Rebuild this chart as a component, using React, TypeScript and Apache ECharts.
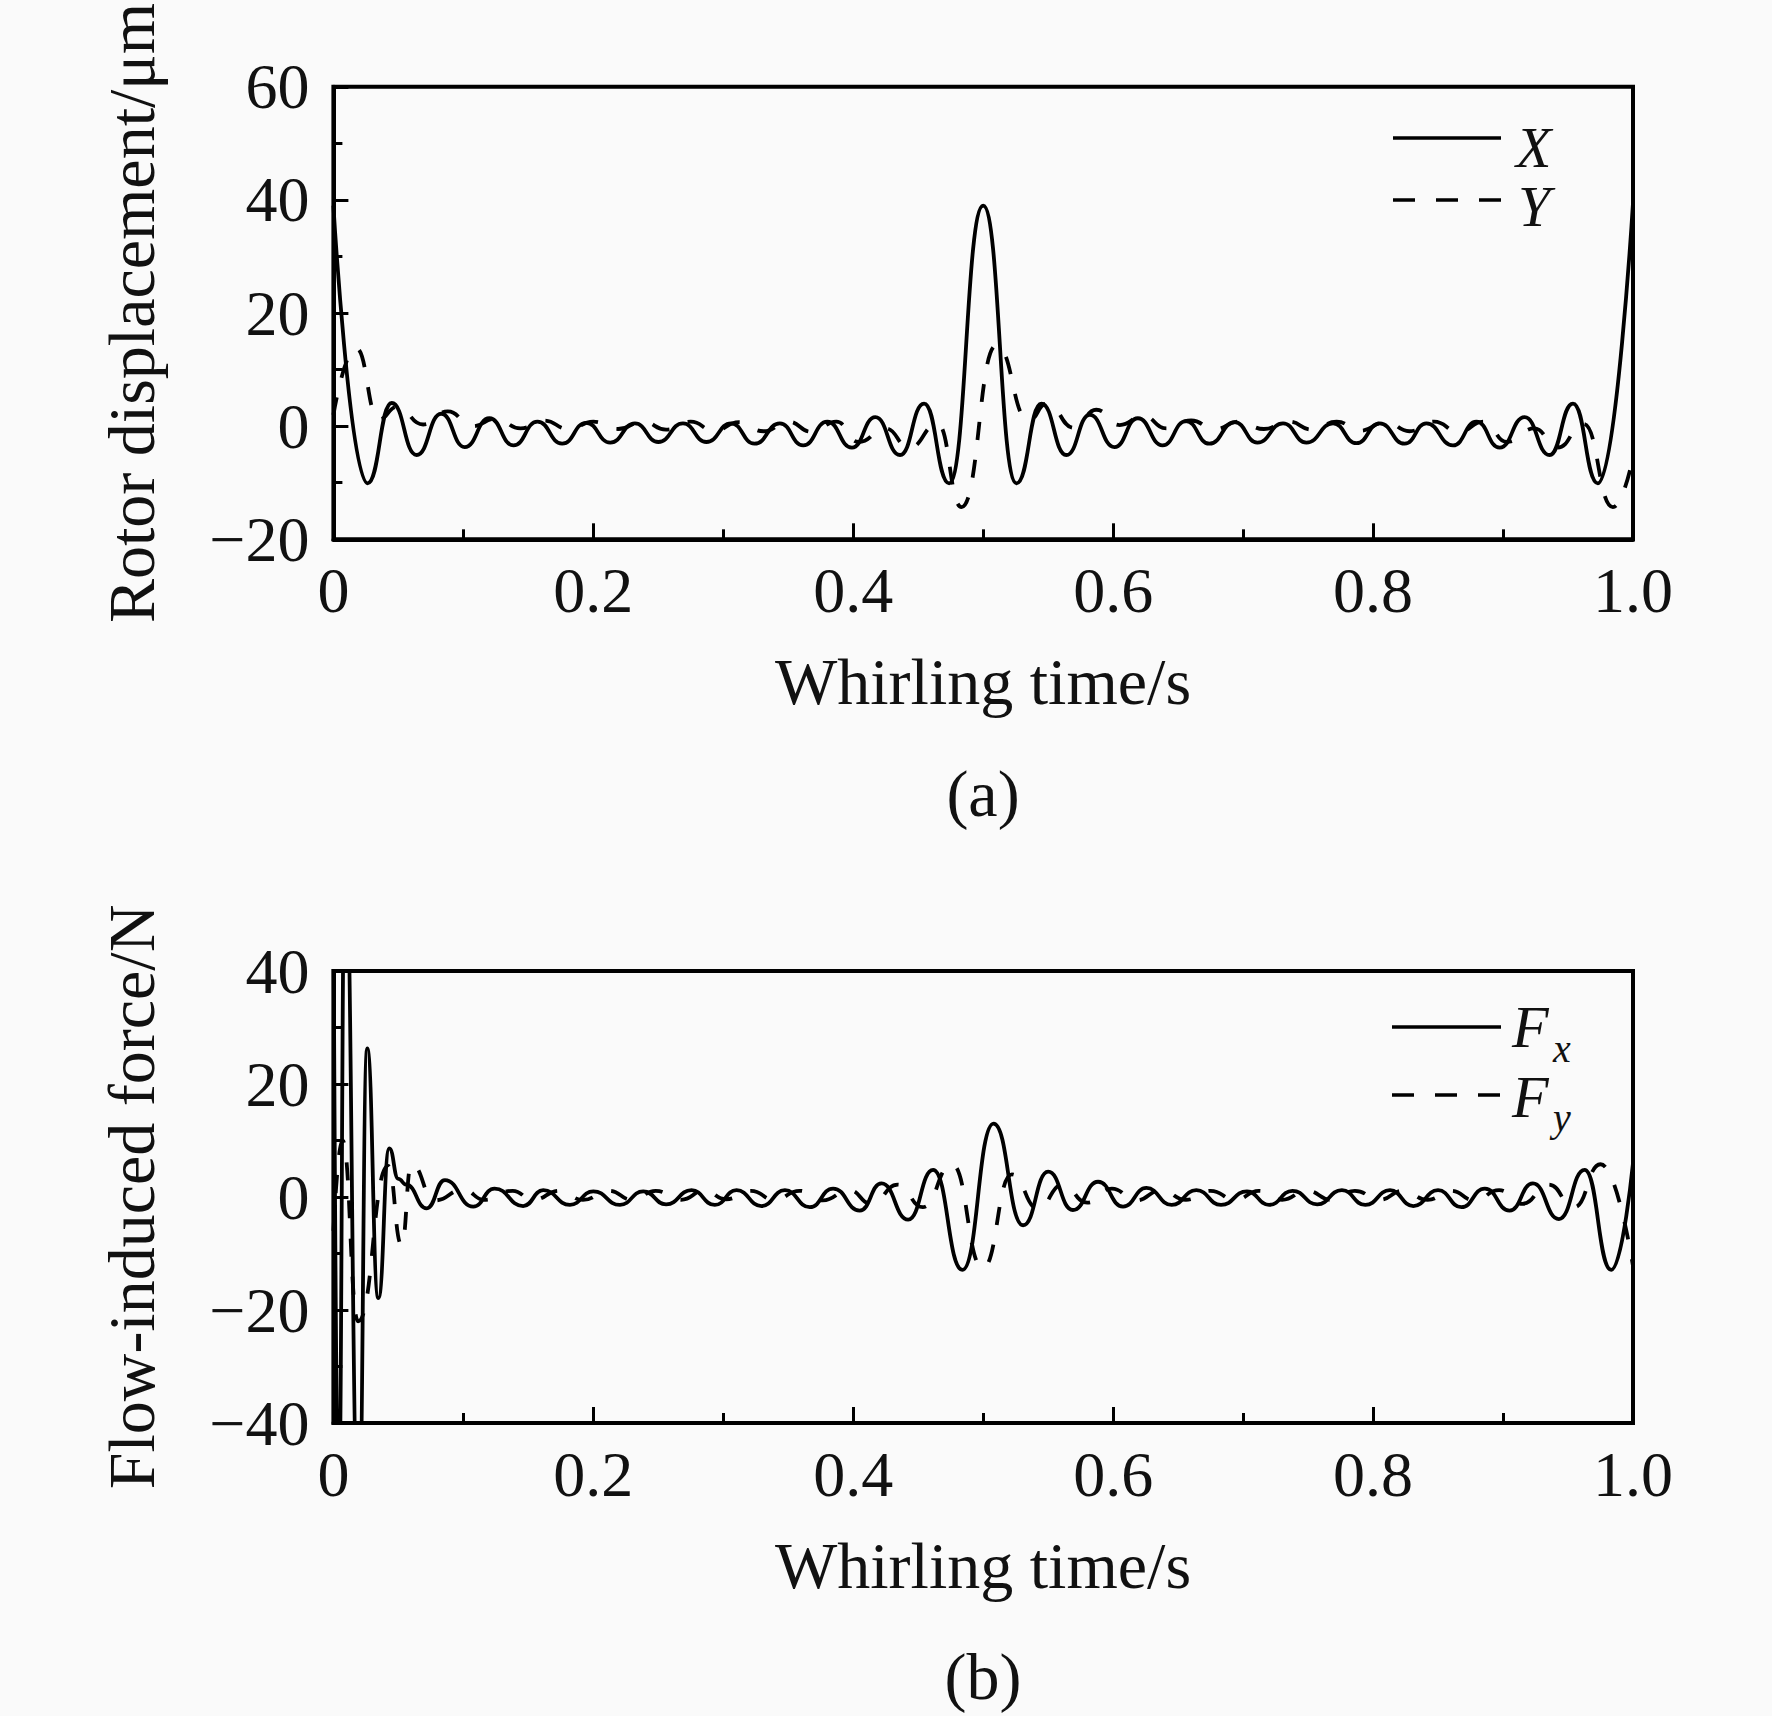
import React, { useEffect, useRef } from 'react';
import * as echarts from 'echarts';

// ---------- data ----------
const xTickLabels = ['0', '0.2', '0.4', '0.6', '0.8', '1.0'];
const yTickLabelsA = ['\u221220', '0', '20', '40', '60'];
const yTickLabelsB = ['\u221240', '\u221220', '0', '20', '40'];

const xAxisTitle = 'Whirling time/s';
const yAxisTitleA = 'Rotor displacement/\u03bcm';
const yAxisTitleB = 'Flow-induced force/N';
const panelLabels = ['(a)', '(b)'];

// Rotor displacement X (solid), [time s, µm]
const rotorX: [number, number][] = [
  [0, 39.0], [0.0262, -10.1], [0.0449, 4.1], [0.064, -5.1], [0.083, 2.2], [0.101, -3.7],
  [0.12, 1.4], [0.1385, -3.4], [0.157, 0.8], [0.176, -3.1], [0.1945, 0.6], [0.213, -2.9],
  [0.232, 0.5], [0.25, -2.8], [0.269, 0.5], [0.287, -2.8], [0.306, 0.5], [0.324, -3.1],
  [0.3435, 0.5], [0.3615, -3.4], [0.38, 0.8], [0.399, -3.8], [0.417, 1.6], [0.436, -5.1],
  [0.4545, 4.0], [0.4738, -10.1], [0.5, 39.0], [0.5256, -10.1], [0.5448, 4.0], [0.564, -5.1],
  [0.582, 2.0], [0.601, -3.7], [0.619, 1.4], [0.638, -3.4], [0.656, 0.9], [0.674, -3.1],
  [0.6935, 0.7], [0.711, -2.9], [0.7307, 0.5], [0.7487, -2.9], [0.7692, 0.5], [0.7872, -3.0],
  [0.8051, 0.5], [0.8243, -3.1], [0.841, 0.5], [0.8615, -3.4], [0.8795, 0.8], [0.8974, -3.8],
  [0.9166, 1.6], [0.9358, -5.1], [0.9538, 4.0], [0.973, -10.1], [1.0, 39.5],
];

// Rotor displacement Y (dashed)
const rotorY: [number, number][] = [
  [0, 2.0], [0.0174, 13.8], [0.035, 1.2], [0.049, 3.4], [0.069, 0.3], [0.088, 2.6],
  [0.107, 0.0], [0.125, 1.3], [0.144, -0.4], [0.162, 1.0], [0.181, -0.5], [0.2, 0.8],
  [0.219, -0.5], [0.238, 0.8], [0.256, -0.6], [0.275, 0.8], [0.293, -0.8], [0.312, 0.7],
  [0.331, -0.9], [0.35, 0.8], [0.368, -1.0], [0.387, 0.8], [0.404, -2.8], [0.425, -0.4],
  [0.443, -3.8], [0.465, 0.4], [0.4833, -14.3], [0.5102, 14.3], [0.535, 1.0], [0.549, 4.0],
  [0.57, -0.3], [0.587, 2.9], [0.605, 0.2], [0.623, 1.8], [0.641, -0.4], [0.66, 1.0],
  [0.678, -0.5], [0.697, 0.8], [0.716, -0.5], [0.735, 0.8], [0.753, -0.6], [0.772, 0.8],
  [0.79, -0.8], [0.81, 0.7], [0.828, -0.9], [0.847, 0.8], [0.866, -1.0], [0.885, 0.8],
  [0.903, -2.8], [0.924, -0.4], [0.942, -3.8], [0.962, 0.4], [0.9845, -14.3], [1.0, -5.5],
];

// Flow-induced force Fx (solid), [time s, N]
const forceFx: [number, number][] = [
  [0, 55], [0.004, -55], [0.009, 62], [0.0195, -58], [0.026, 26.3], [0.0346, -17.9],
  [0.043, 8.6], [0.05, 3.2], [0.056, 2.2], [0.0718, -2.0], [0.0858, 3.0], [0.1076, -1.7],
  [0.124, 1.5], [0.146, -1.6], [0.1615, 1.2], [0.182, -1.4], [0.2, 1.0], [0.2205, -1.4],
  [0.2384, 1.0], [0.256, -1.3], [0.2756, 1.2], [0.2935, -1.4], [0.3102, 1.2], [0.3294, -1.6],
  [0.3474, 1.2], [0.3666, -1.8], [0.3845, 1.5], [0.405, -2.4], [0.4218, 2.4], [0.4423, -4.0],
  [0.4615, 4.8], [0.484, -12.9], [0.508, 13.0], [0.5307, -5.0], [0.55, 4.5], [0.569, -2.3],
  [0.5884, 2.7], [0.6076, -1.7], [0.6256, 1.6], [0.645, -1.4], [0.664, 1.2], [0.683, -1.4],
  [0.703, 1.0], [0.72, -1.4], [0.738, 1.1], [0.757, -1.3], [0.776, 1.2], [0.794, -1.4],
  [0.813, 1.2], [0.831, -1.6], [0.85, 1.2], [0.868, -1.8], [0.886, 1.5], [0.905, -2.4],
  [0.923, 2.4], [0.943, -3.9], [0.9628, 4.8], [0.9833, -12.9], [1.0, 6.0],
];

// Flow-induced force Fy (dashed)
const forceFy: [number, number][] = [
  [0, -6], [0.007, 10], [0.019, -22], [0.042, 5.5], [0.0525, -8.5], [0.06, 5.8],
  [0.078, -0.6], [0.1, 1.3], [0.116, -0.5], [0.138, 1.1], [0.1535, -0.5], [0.174, 1.1],
  [0.192, -0.5], [0.212, 1.1], [0.23, -0.5], [0.248, 1.1], [0.2676, -0.5], [0.2855, 1.1],
  [0.3022, -0.4], [0.3214, 1.1], [0.3394, -0.5], [0.3586, 1.1], [0.3765, -0.6], [0.397, 1.2],
  [0.4138, -1.2], [0.4343, 2.2], [0.4535, -1.8], [0.476, 5.8], [0.4997, -12.6], [0.522, 4.0],
  [0.542, -2.0], [0.561, 2.2], [0.58, -1.0], [0.599, 1.5], [0.6176, -0.6], [0.637, 1.2],
  [0.656, -0.5], [0.675, 1.1], [0.694, -0.5], [0.712, 1.1], [0.73, -0.5], [0.749, 1.1],
  [0.768, -0.5], [0.786, 1.1], [0.805, -0.5], [0.823, 1.1], [0.842, -0.5], [0.86, 1.1],
  [0.878, -0.6], [0.897, 1.2], [0.915, -1.2], [0.935, 2.2], [0.9548, -1.8], [0.975, 5.8],
  [1.0, -12.2],
];

// ---------- chart ----------
const W = 1772;
const H = 1716;
const FONT = '"Liberation Serif", "Times New Roman", serif';
const INK = '#111';

export default function App() {
  const ref = useRef<HTMLDivElement>(null);

  useEffect(() => {
    if (!ref.current) return;
    const chart = echarts.init(ref.current, undefined, { renderer: 'svg' });

    const gridA = { left: 333.4, top: 86.8, width: 1299.6, height: 452.5 };
    const gridB = { left: 333.4, top: 971, width: 1299.6, height: 452 };

    const makeX = (gridIndex: number) => ({
      type: 'value',
      gridIndex,
      min: 0,
      max: 1,
      interval: 0.2,
      axisLine: { show: true, onZero: false, lineStyle: { color: '#000', width: 4 } },
      axisTick: { show: true, inside: true, length: 16, lineStyle: { color: '#000', width: 3 } },
      minorTick: { show: true, splitNumber: 2, length: 10, lineStyle: { color: '#000', width: 3 } },
      splitLine: { show: false },
      axisLabel: {
        margin: 19,
        color: INK,
        fontFamily: FONT,
        fontSize: 64,
        formatter: (_v: number, i: number) => xTickLabels[i] ?? '',
      },
    });

    const makeY = (gridIndex: number, min: number, max: number, labels: string[]) => ({
      type: 'value',
      gridIndex,
      min,
      max,
      interval: 20,
      axisLine: { show: true, onZero: false, lineStyle: { color: '#000', width: 4 } },
      axisTick: { show: true, inside: true, length: 15, lineStyle: { color: '#000', width: 3 } },
      minorTick: { show: true, splitNumber: 2, length: 9, lineStyle: { color: '#000', width: 3 } },
      splitLine: { show: false },
      axisLabel: {
        margin: 24,
        color: INK,
        fontFamily: FONT,
        fontSize: 64,
        formatter: (_v: number, i: number) => labels[i] ?? '',
      },
    });

    const lineSeries = (
      name: string,
      data: [number, number][],
      idx: number,
      dashed: boolean
    ) => ({
      name,
      type: 'line',
      xAxisIndex: idx,
      yAxisIndex: idx,
      data,
      showSymbol: false,
      symbol: 'none',
      smooth: 0.5,
      smoothMonotone: 'x',
      clip: true,
      lineStyle: { color: '#000', width: 3.8, type: dashed ? [18, 20] : 'solid' },
      z: 3,
    });

    const txt = (
      text: string,
      x: number,
      y: number,
      size: number,
      opts: any = {}
    ) => ({
      type: 'text',
      x,
      y,
      rotation: opts.rotation ?? 0,
      z: 10,
      style: {
        text,
        fill: INK,
        fontFamily: FONT,
        fontSize: size,
        fontStyle: opts.italic ? 'italic' : 'normal',
        align: opts.align ?? 'center',
        verticalAlign: 'middle',
      },
    });

    const legLine = (x1: number, x2: number, y: number, dashed: boolean) => ({
      type: 'line',
      z: 10,
      shape: { x1, y1: y, x2, y2: y },
      style: { stroke: '#000', lineWidth: 3.5, lineDash: dashed ? [22, 21] : null },
    });

    const mid = (baseline: number, size: number) => baseline - 0.3375 * size;

    const option: any = {
      animation: false,
      backgroundColor: '#fafafa',
      grid: [
        { ...gridA, show: true, borderColor: '#000', borderWidth: 4, backgroundColor: 'transparent' },
        { ...gridB, show: true, borderColor: '#000', borderWidth: 4, backgroundColor: 'transparent' },
      ],
      xAxis: [makeX(0), makeX(1)],
      yAxis: [makeY(0, -20, 60, yTickLabelsA), makeY(1, -40, 40, yTickLabelsB)],
      series: [
        lineSeries('X', rotorX, 0, false),
        lineSeries('Y', rotorY, 0, true),
        lineSeries('Fx', forceFx, 1, false),
        lineSeries('Fy', forceFy, 1, true),
      ],
      graphic: [
        // axis titles
        txt(yAxisTitleA, mid(154, 66), 313, 66, { rotation: Math.PI / 2 }),
        txt(yAxisTitleB, mid(154, 66), 1197, 66, { rotation: Math.PI / 2 }),
        txt(xAxisTitle, 983, mid(704, 66), 66),
        txt(xAxisTitle, 983, mid(1588, 66), 66),
        txt(panelLabels[0], 983, mid(816, 66), 66),
        txt(panelLabels[1], 983, mid(1699, 66), 66),
        // legend (a)
        legLine(1393, 1501, 138, false),
        legLine(1393, 1501, 200, true),
        txt('X', 1516, mid(167, 58), 58, { italic: true, align: 'left' }),
        txt('Y', 1518, mid(226, 58), 58, { italic: true, align: 'left' }),
        // legend (b)
        legLine(1392, 1501, 1027, false),
        legLine(1392, 1501, 1095, true),
        txt('F', 1512, mid(1047, 60), 60, { italic: true, align: 'left' }),
        txt('x', 1553, mid(1062, 40), 40, { italic: true, align: 'left' }),
        txt('F', 1512, mid(1117, 60), 60, { italic: true, align: 'left' }),
        txt('y', 1553, mid(1131, 40), 40, { italic: true, align: 'left' }),
      ],
    };

    chart.setOption(option);
    return () => chart.dispose();
  }, []);

  return (
    <div
      ref={ref}
      style={{ position: 'absolute', left: 0, top: 0, width: W, height: H }}
    />
  );
}
